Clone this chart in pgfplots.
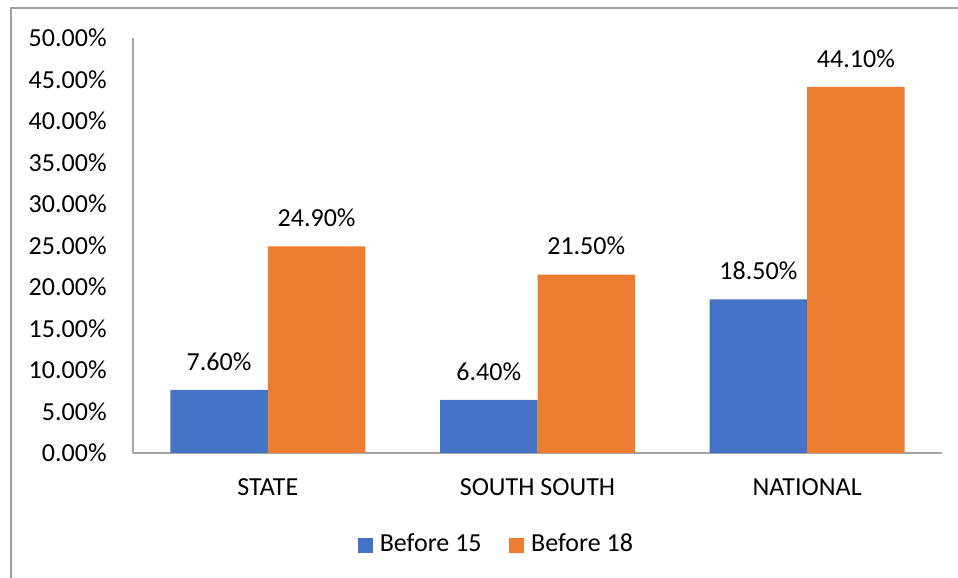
\documentclass[border=0pt]{standalone}
\usepackage{pgfplots}
\pgfplotsset{compat=1.18}
\usepackage{fontspec}
\setmainfont{Carlito}

\definecolor{barblue}{RGB}{68,114,196}
\definecolor{barorange}{RGB}{237,125,49}
\definecolor{axisgray}{RGB}{166,166,166}
\definecolor{framegray}{RGB}{160,160,160}

\begin{document}
\fontsize{13pt}{15.6pt}\selectfont
\begin{tikzpicture}
  % page area
  \useasboundingbox (0,0) rectangle (479pt,289pt);
  % chart area border (left and top edges)
  \draw[framegray, line width=0.9pt] (5.5pt,-5pt) -- (5.5pt,285pt) -- (490pt,285pt);
  \begin{axis}[
    at={(66.5pt,62.5pt)}, anchor=south west,
    scale only axis,
    width=404.5pt, height=207.5pt,
    ybar=0pt, bar width=48.75pt,
    xmin=-0.5, xmax=2.5,
    ymin=0, ymax=50,
    xtick=data,
    xticklabels={STATE, SOUTH SOUTH, NATIONAL},
    ytick={0,5,10,15,20,25,30,35,40,45,50},
    yticklabels={0.00\%,5.00\%,10.00\%,15.00\%,20.00\%,25.00\%,30.00\%,35.00\%,40.00\%,45.00\%,50.00\%},
    major tick length=0pt,
    axis x line*=bottom, axis y line*=left,
    axis line style={axisgray, line width=0.8pt, -},
    yticklabel style={anchor=east, inner sep=0pt, xshift=-13pt},
    xticklabel style={anchor=base, inner sep=0pt, yshift=-21.5pt},
    nodes near coords={\pgfmathprintnumber[fixed,fixed zerofill,precision=2,assume math mode=true]{\pgfplotspointmeta}\%},
    every node near coord/.append style={anchor=south, inner sep=0pt, yshift=9.5pt, black},
    legend style={
      at={(0.448,-0.2217)}, anchor=center, draw=none, fill=none,
      inner sep=0pt, legend columns=-1,
      nodes={inner sep=0pt, anchor=west},
      /tikz/every odd column/.append style={column sep=3.5pt},
      /tikz/every even column/.append style={column sep=13.8pt},
    },
    legend image code/.code={\fill[#1] (0pt,-3.75pt) rectangle (7.5pt,3.75pt);},
  ]
    \addplot[fill=barblue, draw=none] coordinates {(0,7.6) (1,6.4) (2,18.5)};
    \addplot[fill=barorange, draw=none] coordinates {(0,24.9) (1,21.5) (2,44.1)};
    \legend{Before 15, Before 18}
  \end{axis}
\end{tikzpicture}
\end{document}
